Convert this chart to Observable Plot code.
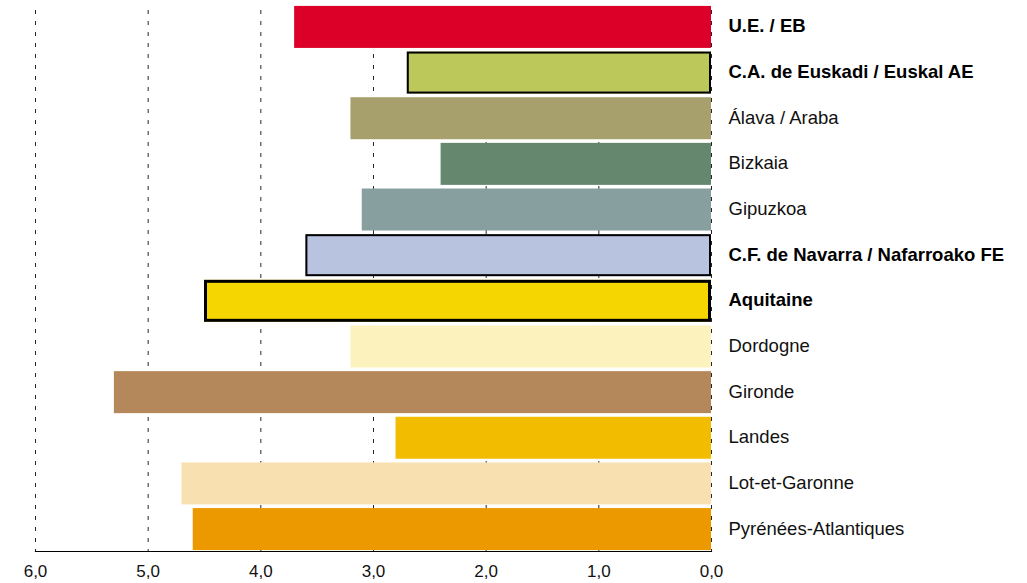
<!DOCTYPE html>
<html>
<head>
<meta charset="utf-8">
<script src="https://cdn.jsdelivr.net/npm/d3@7"></script>
<script src="https://cdn.jsdelivr.net/npm/@observablehq/plot@0.6"></script>
<style>
  html, body { margin: 0; padding: 0; background: #fff; }
  #chart svg { display: block; }
</style>
</head>
<body>
<div id="chart"></div>
<script>
const regions = ["U.E. / EB", "C.A. de Euskadi / Euskal AE", "Álava / Araba", "Bizkaia", "Gipuzkoa",
  "C.F. de Navarra / Nafarroako FE", "Aquitaine", "Dordogne", "Gironde", "Landes",
  "Lot-et-Garonne", "Pyrénées-Atlantiques"];
const values = [3.7, 2.7, 3.2, 2.4, 3.1, 3.6, 4.5, 3.2, 5.3, 2.8, 4.7, 4.6];
const colors = ["#dc0028", "#bcc85a", "#a8a06c", "#65876d", "#87a09f", "#b8c3e0",
  "#f5d600", "#fcf2bd", "#b4885a", "#f2bd00", "#f8e0b0", "#ec9900"];
const bold = [true, true, false, false, false, true, true, false, false, false, false, false];
const outline = [0, 2, 0, 0, 0, 2, 3, 0, 0, 0, 0, 0];
const xTicks = [6, 5, 4, 3, 2, 1, 0];

const data = regions.map((r, i) => ({region: r, value: values[i], color: colors[i], bold: bold[i], outline: outline[i]}));
const fmt = d => d.toFixed(1).replace(".", ",");
const font = "'Liberation Sans', Arial, Helvetica, sans-serif";

const chart = Plot.plot({
  width: 1027,
  height: 583,
  marginLeft: 35,
  marginRight: 316,
  marginTop: 5,
  marginBottom: 32,
  style: {fontFamily: font, background: "#fff"},
  x: {domain: [6, 0], ticks: xTicks, tickFormat: fmt},
  y: {domain: regions, paddingInner: 0.08, paddingOuter: 0.02, round: false, axis: null},
  marks: [
    Plot.gridX(xTicks, {stroke: "#000", strokeOpacity: 0.85, strokeDasharray: "4,7", insetTop: 5}),
    Plot.barX(data, {x: "value", y: "region", fill: "color"}),
    Plot.barX(data.filter(d => d.outline === 2), {x: "value", y: "region", fill: "color", stroke: "#000", strokeWidth: 2, inset: 1}),
    Plot.barX(data.filter(d => d.outline === 3), {x: "value", y: "region", fill: "color", stroke: "#000", strokeWidth: 3, inset: 1.5}),
    Plot.frame({anchor: "bottom", stroke: "#000", strokeWidth: 1.2}),
    Plot.axisX({ticks: xTicks, tickFormat: fmt, tickSize: 0, tickPadding: 13, fontSize: 17, fill: "#111", fontFamily: font, label: null}),
    Plot.text(data.filter(d => !d.bold), {x: () => 0, y: "region", text: "region", textAnchor: "start", dx: 17, dy: -1, fontSize: 18.5, fontFamily: font, fill: "#111"}),
    Plot.text(data.filter(d => d.bold), {x: () => 0, y: "region", text: "region", textAnchor: "start", dx: 17, dy: -1, fontSize: 18.5, fontFamily: font, fontWeight: "bold", fill: "#000"})
  ]
});
document.getElementById("chart").appendChild(chart);
</script>
</body>
</html>
